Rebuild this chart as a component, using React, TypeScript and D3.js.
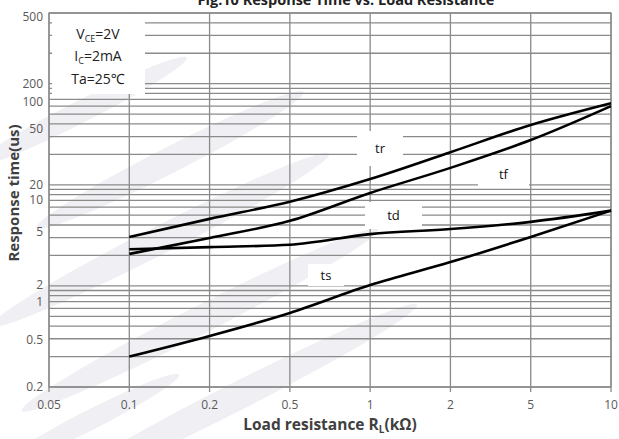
import React from "react";
import * as d3 from "d3";

const xCategories = ["0.05", "0.1", "0.2", "0.5", "1", "2", "5", "10"];
const loadResistance = ["0.1", "0.2", "0.5", "1", "2", "5", "10"];
const trValues = [3.05, 4.6, 6.8, 11.4, 21, 39, 64];
const tfValues = [2.07, 2.98, 4.4, 8.3, 14.7, 27.7, 60];
const tdValues = [2.3, 2.42, 2.55, 3.25, 3.65, 4.3, 5.55];
const tsValues = [0.2, 0.32, 0.54, 1.02, 1.72, 3.05, 5.55];
const yTickLabels = ["500", "200", "100", "50", "20", "10", "5", "2", "1", "0.5", "0.2"];
const yTickAt = [457, 100, 66, 35.6, 10, 7.07, 3.41, 1.02, 0.693, 0.292, 0.1];
const gridMantissas = [1, 2, 3, 4, 5, 6, 7, 8, 9];
const gridDecades = [0.1, 1, 10, 100];

const W = 619, H = 439;
const L = 49, R = 611, T = 13, B = 387;

export default function App() {
  const x = d3.scalePoint<string>().domain(xCategories).range([L, R]);
  const y = d3.scaleLog().domain([0.1, 500]).range([B, T]);
  const gridVals: number[] = [];
  gridDecades.forEach((d) => gridMantissas.forEach((m) => { const v = +(d * m).toPrecision(3); if (v <= 500) gridVals.push(v); }));
  const line = d3.line<number>().x((_, i) => x(loadResistance[i]) as number).y((v) => y(v)).curve(d3.curveMonotoneX);
  const series = [
    { name: "tr", vals: trValues },
    { name: "tf", vals: tfValues },
    { name: "td", vals: tdValues },
    { name: "ts", vals: tsValues },
  ];
  const font = "'Open Sans', 'Noto Sans', sans-serif";
  const grid = "#8a8a8a";
  const labelBoxes = [
    { t: "tr", x: 357, y: 131, w: 46, h: 35 },
    { t: "tf", x: 478, y: 162, w: 51, h: 24 },
    { t: "td", x: 365, y: 202, w: 57, h: 27 },
    { t: "ts", x: 308, y: 264, w: 36, h: 22 },
  ];
  const swooshes = [
    { cx: 80, cy: 112, rx: 120, ry: 11 },
    { cx: 170, cy: 160, rx: 150, ry: 13 },
    { cx: 160, cy: 240, rx: 190, ry: 14 },
    { cx: 200, cy: 320, rx: 200, ry: 14 },
    { cx: 230, cy: 400, rx: 210, ry: 14 },
    { cx: 90, cy: 420, rx: 100, ry: 10 },
  ];
  return (
    <svg width={W} height={H} style={{ position: "absolute", left: 0, top: 0, background: "#fff" }} fontFamily={font}>
      {swooshes.map((s, i) => (
        <ellipse key={i} cx={s.cx} cy={s.cy} rx={s.rx} ry={s.ry} fill="#f0f0f4" transform={`rotate(-27 ${s.cx} ${s.cy})`} />
      ))}
      <text x={346} y={5} textAnchor="middle" fontWeight="bold" fontSize={14.5} fill="#222">Fig.10 Response Time vs. Load Resistance</text>
      {gridVals.map((v) => (
        <line key={"h" + v} x1={L} x2={R} y1={y(v)} y2={y(v)} stroke={grid} strokeWidth={1.3} />
      ))}
      {xCategories.map((c) => (
        <g key={"v" + c}>
          <line x1={x(c)} x2={x(c)} y1={T} y2={B + 5} stroke={grid} strokeWidth={1.3} />
          <text x={x(c)} y={B + 22} textAnchor="middle" fontSize={12} fill="#595959">{c}</text>
        </g>
      ))}
      <rect x={L} y={T} width={R - L} height={B - T} fill="none" stroke={grid} strokeWidth={1.3} />
      {yTickLabels.map((t, i) => (
        <text key={"yl" + t} x={43} y={y(yTickAt[i])} dy="0.35em" textAnchor="end" fontSize={12} fill="#595959">{t}</text>
      ))}
      <rect x={52} y={T + 1} width={93} height={80} fill="#fff" />
      <text x={98} y={39} textAnchor="middle" fontSize={14} fill="#222">V<tspan fontSize={9} dy={3}>CE</tspan><tspan dy={-3}>=2V</tspan></text>
      <text x={98} y={61} textAnchor="middle" fontSize={14} fill="#222">I<tspan fontSize={9} dy={3}>C</tspan><tspan dy={-3}>=2mA</tspan></text>
      <text x={98} y={84} textAnchor="middle" fontSize={14} fill="#222">Ta=25℃</text>
      {labelBoxes.map((b) => (
        <g key={"lb" + b.t}>
          <rect x={b.x} y={b.y} width={b.w} height={b.h} fill="#fff" />
        </g>
      ))}
      {series.map((s) => (
        <path key={s.name} d={line(s.vals) as string} fill="none" stroke="#000" strokeWidth={2.6} />
      ))}
      {labelBoxes.map((b) => (
        <text key={"lt" + b.t} x={b.x + b.w / 2} y={b.y + b.h / 2} dy="0.35em" textAnchor="middle" fontSize={13} fill="#111">{b.t}</text>
      ))}
      <text x={330} y={430} textAnchor="middle" fontWeight="bold" fontSize={15.5} fill="#404040">Load resistance R<tspan fontSize={10} dy={3}>L</tspan><tspan dy={-3}>(kΩ)</tspan></text>
      <text transform="translate(19,193) rotate(-90)" textAnchor="middle" fontWeight="bold" fontSize={15} fill="#404040">Response time(us)</text>
    </svg>
  );
}
